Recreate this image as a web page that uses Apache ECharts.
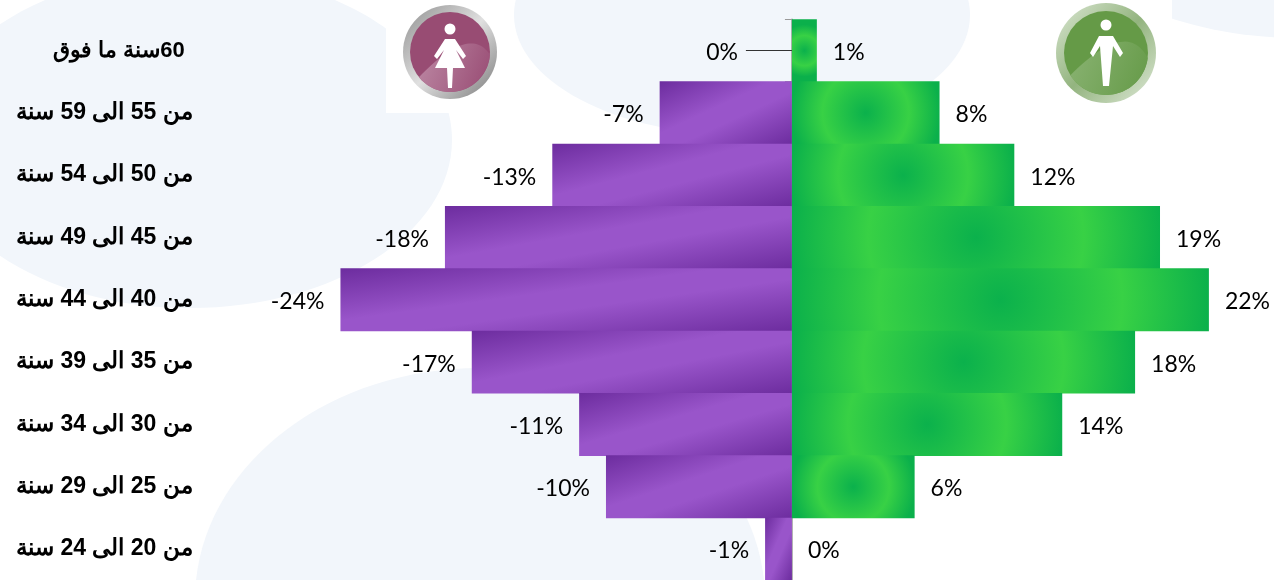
<!DOCTYPE html>
<html>
<head>
    <meta charset="utf-8" />
    <title>ECharts</title>
    <script src="https://cdn.jsdelivr.net/npm/echarts@6/dist/echarts.min.js"></script>
    <style>
        html, body { margin: 0; padding: 0; background: #fff; }
        #main { width: 1274px; height: 580px; }
    </style>
</head>
<body>
<div id="main"></div>
<script type="text/javascript">
    // 年龄段，从上到下
    const ageGroups = ['\u200f60سنة ما فوق', 'من 55 الى 59 سنة', 'من 50 الى 54 سنة', 'من 45 الى 49 سنة', 'من 40 الى 44 سنة', 'من 35 الى 39 سنة', 'من 30 الى 34 سنة', 'من 25 الى 29 سنة', 'من 20 الى 24 سنة'];
    const femaleValues = [0, -6.9, -12.5, -18.1, -23.55, -16.7, -11.1, -9.7, -1.4];
    const maleValues = [1.3, 7.7, 11.6, 19.2, 21.75, 17.9, 14.1, 6.4, 0];

    // 坐标范围和网格，渐变要用到
    const axisMin = -30, axisMax = 25;
    const gridLeft = 216.8, gridTop = 19.3, gridWidth = 1054.4, gridHeight = 561;
    const pxPerUnit = gridWidth / (axisMax - axisMin);
    const rowHeight = gridHeight / ageGroups.length;

    function percent(v) {
        return (v < 0 ? '-' : '') + Math.round(Math.abs(v)) + '%';
    }

    // 紫色：等色线沿对角线方向
    function purpleFill(v) {
        let w = Math.max(Math.abs(v) * pxPerUnit, 1), h = rowHeight;
        let dx = h * h / (w * w + h * h), dy = w * w / (w * w + h * h);
        return new echarts.graphic.LinearGradient(0.5 - dx, 0.5 - dy, 0.5 + dx, 0.5 + dy, [
            {offset: 0, color: '#6c2c9e'},
            {offset: 0.42, color: '#9955ca'},
            {offset: 0.58, color: '#9955ca'},
            {offset: 1, color: '#6c2c9e'}
        ]);
    }

    // 绿色：径向渐变，半径取柱子宽度的一半，窄柱子保持一个最小半径
    function greenFill(v) {
        let w = Math.max(v * pxPerUnit, 1), h = rowHeight;
        let r = Math.max(w / 2, 26) / Math.min(w, h);
        return new echarts.graphic.RadialGradient(0.5, 0.5, r, [
            {offset: 0, color: '#0bb14c'},
            {offset: 0.58, color: '#38d145'},
            {offset: 1, color: '#0bb04b'}
        ]);
    }

    let femaleData = femaleValues.map(function (v, i) {
        let item = {value: v, itemStyle: {color: purpleFill(v)}};
        if (i === 0) {
            item.label = {offset: [-38, 2]};
        }
        return item;
    });
    let maleData = maleValues.map(function (v) {
        return {value: v, itemStyle: {color: greenFill(v)}};
    });

    let barLabel = {
        show: true,
        distance: 16,
        offset: [0, 2],
        fontFamily: 'Lato',
        fontSize: 23,
        color: '#000',
        formatter: function (p) { return percent(p.value); }
    };

    // 图标里亮色的部分：下方圆弧加上方曲线
    function highlight(cx, cy, r, a1, a2, ctrlX, ctrlY) {
        let pts = [];
        for (let i = 0; i <= 40; i++) {
            let a = (a1 + (a2 - a1) * i / 40) * Math.PI / 180;
            pts.push([cx + r * Math.cos(a), cy + r * Math.sin(a)]);
        }
        let l = pts[40], e = pts[0];
        for (let i = 1; i < 30; i++) {
            let t = i / 30, u = 1 - t;
            pts.push([u * u * l[0] + 2 * u * t * ctrlX + t * t * e[0], u * u * l[1] + 2 * u * t * ctrlY + t * t * e[1]]);
        }
        return pts;
    }

    let paleBlue = '#f2f6fb';
    let decorations = [
        {type: 'rect', z: -5, silent: true, shape: {x: 0, y: 0, width: 1274, height: 580}, style: {fill: '#fff'}},
        {type: 'ellipse', z: -4, silent: true, shape: {cx: 190, cy: 140, rx: 262, ry: 168}, style: {fill: paleBlue}},
        {type: 'ellipse', z: -4, silent: true, shape: {cx: 742, cy: 15, rx: 228, ry: 120}, style: {fill: paleBlue}},
        {type: 'ellipse', z: -4, silent: true, shape: {cx: 480, cy: 600, rx: 285, ry: 232}, style: {fill: paleBlue}},
        {type: 'ellipse', z: -4, silent: true, shape: {cx: 1300, cy: -100, rx: 250, ry: 138}, style: {fill: paleBlue}},
        {type: 'rect', z: -3, silent: true, shape: {x: 386, y: 0, width: 124, height: 113}, style: {fill: '#fff'}},
        {type: 'rect', z: -3, silent: true, shape: {x: 1040, y: 0, width: 132, height: 113}, style: {fill: '#fff'}},

        // 女
        {type: 'circle', z: -2, silent: true, shape: {cx: 450, cy: 52, r: 47}, style: {fill: new echarts.graphic.LinearGradient(0, 0, 1, 1, [
            {offset: 0, color: '#8f8f8f'}, {offset: 0.5, color: '#e0e0e0'}, {offset: 1, color: '#7a7a7a'}
        ])}},
        {type: 'circle', z: -2, silent: true, shape: {cx: 450, cy: 52, r: 40}, style: {fill: '#984c73'}},
        {type: 'polygon', z: -2, silent: true, shape: {points: highlight(450, 52, 40, 4, 141, 470, 24)}, style: {fill: new echarts.graphic.LinearGradient(0, 0, 1, 0.6, [
            {offset: 0, color: '#bd8aa5'}, {offset: 1, color: '#9b5077'}
        ])}},
        {type: 'circle', z: -2, silent: true, shape: {cx: 450, cy: 29, r: 5.5}, style: {fill: '#fff'}},
        {type: 'polygon', z: -2, silent: true, shape: {points: [[445, 39], [455, 39], [466, 56], [463, 59], [456, 50], [465, 68], [453, 68], [452, 88], [448, 88], [447, 68], [435, 68], [444, 50], [437, 59], [434, 56]]}, style: {fill: '#fff'}},

        // 男
        {type: 'circle', z: -2, silent: true, shape: {cx: 1106, cy: 53, r: 50}, style: {fill: new echarts.graphic.LinearGradient(0, 0, 1, 1, [
            {offset: 0, color: '#dbe7d3'}, {offset: 0.5, color: '#93b47f'}, {offset: 1, color: '#dfe9d8'}
        ])}},
        {type: 'circle', z: -2, silent: true, shape: {cx: 1106, cy: 53, r: 42}, style: {fill: '#659a47'}},
        {type: 'polygon', z: -2, silent: true, shape: {points: highlight(1106, 53, 42, 7, 148, 1127, 18)}, style: {fill: new echarts.graphic.LinearGradient(0, 0, 1, 0.6, [
            {offset: 0, color: '#8ab373'}, {offset: 1, color: '#689c4b'}
        ])}},
        {type: 'circle', z: -2, silent: true, shape: {cx: 1106, cy: 25, r: 5.5}, style: {fill: '#fff'}},
        {type: 'polygon', z: -2, silent: true, shape: {points: [[1099, 36], [1113, 36], [1123, 53], [1120, 57], [1113, 46], [1109, 86], [1103, 86], [1100, 46], [1093, 57], [1090, 53]]}, style: {fill: '#fff'}}
    ];

    let option = {
        animation: false,
        backgroundColor: '#fff',
        graphic: {elements: decorations},
        grid: {left: gridLeft, top: gridTop, width: gridWidth, height: gridHeight, outerBoundsMode: 'none'},
        xAxis: {
            type: 'value',
            min: axisMin,
            max: axisMax,
            show: false
        },
        yAxis: [
            {
                // 零线和刻度
                type: 'category',
                inverse: true,
                data: ageGroups,
                axisLine: {onZero: true, lineStyle: {color: '#9a9a9a', width: 1.5}},
                axisTick: {show: true, length: 7, lineStyle: {color: '#9a9a9a'}},
                axisLabel: {show: false}
            },
            {
                // 左边的文字，第一行字小一点，位置也靠左
                type: 'category',
                inverse: true,
                position: 'left',
                data: ageGroups,
                axisLine: {show: false, onZero: false},
                axisTick: {show: false},
                axisLabel: {
                    margin: 24,
                    fontFamily: 'Liberation Sans',
                    fontWeight: 'bold',
                    fontSize: 23,
                    color: '#000',
                    formatter: function (v, i) {
                        return i === 0 ? '{top|' + v + '}' : v;
                    },
                    rich: {
                        top: {
                            fontFamily: 'Liberation Sans',
                            fontWeight: 'bold',
                            fontSize: 22,
                            color: '#000',
                            padding: [0, 8, 0, 0]
                        }
                    }
                }
            }
        ],
        series: [
            {
                name: 'female',
                type: 'bar',
                barWidth: rowHeight + 0.6,
                barGap: '-100%',
                data: femaleData,
                label: Object.assign({position: 'left'}, barLabel),
                markLine: {
                    silent: true,
                    symbol: 'none',
                    label: {show: false},
                    lineStyle: {color: '#333', width: 1, type: 'solid'},
                    data: [[{coord: [-2.4, ageGroups[0]]}, {coord: [0, ageGroups[0]]}]]
                }
            },
            {
                name: 'male',
                type: 'bar',
                barWidth: rowHeight + 0.6,
                barGap: '-100%',
                data: maleData,
                label: Object.assign({position: 'right'}, barLabel)
            }
        ]
    };

    let myChart = echarts.init(document.getElementById('main'));
    myChart.setOption(option);
</script>
</body>
</html>
